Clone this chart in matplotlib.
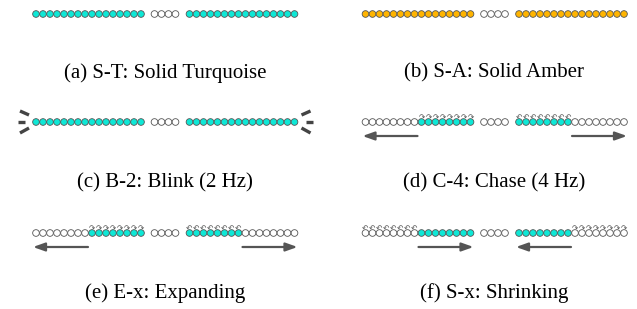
import matplotlib
matplotlib.use('Agg')
import matplotlib.pyplot as plt

# panel captions, in reading order
captions = ['(a) S-T: Solid Turquoise', '(b) S-A: Solid Amber',
            '(c) B-2: Blink (2 Hz)', '(d) C-4: Chase (4 Hz)',
            '(e) E-x: Expanding', '(f) S-x: Shrinking']

# LED states of the two 16-LED strips per panel (T turquoise, A amber, W off)
left_strip = ['T' * 16, 'A' * 16, 'T' * 16,
              'W' * 8 + 'T' * 8, 'W' * 8 + 'T' * 8, 'W' * 8 + 'T' * 8]
right_strip = ['T' * 16, 'A' * 16, 'T' * 16,
               'T' * 8 + 'W' * 8, 'T' * 8 + 'W' * 8, 'T' * 8 + 'W' * 8]
n_middle = 4

# motion marks above LEDs (. none, a / b curl direction)
left_marks = ['.' * 16, '.' * 16, '.' * 16,
              '.' * 8 + 'a' * 8, '.' * 8 + 'a' * 8, 'b' * 8 + '.' * 8]
right_marks = ['.' * 16, '.' * 16, '.' * 16,
               'b' * 8 + '.' * 8, 'b' * 8 + '.' * 8, '.' * 8 + 'a' * 8]

# arrows under strips: (first LED, last LED, direction)
left_arrows = [None, None, None, (0, 7, -1), (0, 7, -1), (8, 15, 1)]
right_arrows = [None, None, None, (8, 15, 1), (8, 15, 1), (0, 7, -1)]

blink = [False, False, True, False, False, False]

colors = {'T': '#0ee8d6', 'A': '#ffb400', 'W': 'white'}
glyphs = {'a': '\u21b7', 'b': '\u21b6'}

panel_x = [36, 365.5]
row_y = [14, 122, 233]
caption_y = [72, 182, 292]
step = 7.0
gray = '#555555'

fig = plt.figure(figsize=(6.37, 3.09), dpi=100)
ax = fig.add_axes([0, 0, 1, 1])
ax.set_xlim(0, 637)
ax.set_ylim(309, 0)
ax.axis('off')

for p in range(6):
    x0 = panel_x[p % 2]
    y = row_y[p // 2]
    xl = [x0 + step * i for i in range(16)]
    xm = [x0 + 118.5 + step * i for i in range(n_middle)]
    xr = [x0 + 153.5 + step * i for i in range(16)]

    xs = xl + xm + xr
    cs = [colors[c] for c in left_strip[p]] + ['white'] * n_middle + \
         [colors[c] for c in right_strip[p]]
    ax.scatter(xs, [y] * len(xs), s=23, c=cs, edgecolors=gray,
               linewidths=0.6, zorder=3)

    for xx, m in list(zip(xl, left_marks[p])) + list(zip(xr, right_marks[p])):
        if m != '.':
            ax.text(xx, y - 4.5, glyphs[m], fontsize=5.5, color=gray,
                    ha='center', va='center', family='DejaVu Sans', zorder=4)

    for xx, arr in [(xl, left_arrows[p]), (xr, right_arrows[p])]:
        if arr is None:
            continue
        a, b, d = arr
        x1, x2 = xx[a] - 3, xx[b] + 3
        tail, head = (x1, x2) if d > 0 else (x2, x1)
        ax.annotate('', xy=(head, y + 14), xytext=(tail, y + 14),
                    arrowprops=dict(arrowstyle='-|>,head_length=0.7,head_width=0.25',
                                    lw=1.6, color=gray, shrinkA=0, shrinkB=0))

    if blink[p]:
        for sgn, xe in [(1, xl[0] - 11), (-1, xr[-1] + 11)]:
            ax.plot([xe - sgn * 5, xe + sgn * 4], [y - 11, y - 7], color='#444444',
                    lw=2.4, solid_capstyle='butt')
            ax.plot([xe - sgn * 7, xe], [y, y], color='#444444', lw=2.4,
                    solid_capstyle='butt')
            ax.plot([xe - sgn * 5, xe + sgn * 4], [y + 11, y + 6], color='#444444',
                    lw=2.4, solid_capstyle='butt')

    ax.text(x0 + 129, caption_y[p // 2] + 1, captions[p], fontsize=15,
            family='Liberation Serif', ha='center', va='center')

fig.savefig('out.png', dpi=100)
